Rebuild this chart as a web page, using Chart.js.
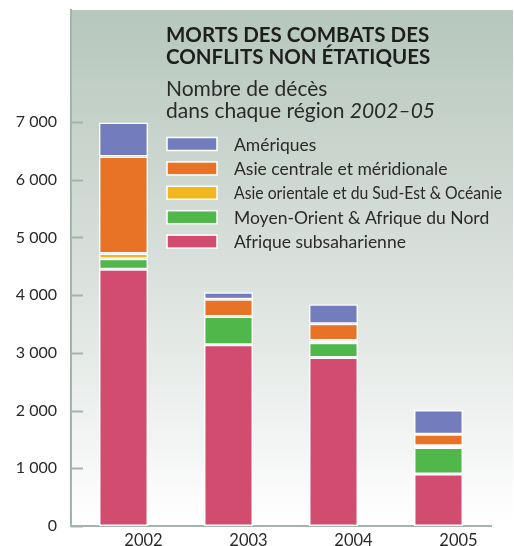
<!DOCTYPE html>
<html>
<head>
<meta charset="utf-8">
<script src="https://cdn.jsdelivr.net/npm/chart.js@4.4.1/dist/chart.umd.min.js"></script>
<style>
  html, body { margin: 0; padding: 0; background: #fff; }
  #wrap { width: 514px; height: 546px; }
</style>
</head>
<body>
<div id="wrap"><canvas id="c" width="514" height="546"></canvas></div>
<script>
// stacked from the bottom up
const years = ['2002', '2003', '2004', '2005'];
const afriqueSub = [4450, 3140, 2920, 900];
const moyenOrient = [180, 490, 255, 460];
const asieOrientale = [90, 0, 40, 30];
const asieCentrale = [1680, 300, 290, 200];
const ameriques = [590, 120, 335, 420];
const yTicks = [0, 1000, 2000, 3000, 4000, 5000, 6000, 7000];

const FONT = 'Lato, "Open Sans", sans-serif';
const AXIS = '#a3b4aa';

const titleLines = ['MORTS DES COMBATS DES', 'CONFLITS NON ÉTATIQUES'];
const subLine1 = 'Nombre de décès';
const subLine2 = 'dans chaque région ';
const subLine2It = '2002–05';

const series = [
  { label: 'Afrique subsaharienne', data: afriqueSub, color: '#d24c70' },
  { label: 'Moyen-Orient & Afrique du Nord', data: moyenOrient, color: '#50b84a' },
  { label: 'Asie orientale et du Sud-Est & Océanie', data: asieOrientale, color: '#f2b61e' },
  { label: 'Asie centrale et méridionale', data: asieCentrale, color: '#e87326' },
  { label: 'Amériques', data: ameriques, color: '#737dbd' },
];

const panel = {
  id: 'panel',
  beforeDraw(chart) {
    const { ctx, chartArea: a, width } = chart;
    const g = ctx.createLinearGradient(0, a.top, 0, a.bottom);
    g.addColorStop(0, '#b6c7bd');
    g.addColorStop(0.55, '#dde3df');
    g.addColorStop(1, '#ffffff');
    ctx.save();
    ctx.fillStyle = g;
    ctx.fillRect(a.left, a.top, width - a.left - 1, a.bottom - a.top);
    ctx.restore();
  },
  afterDraw(chart) {
    const { ctx, chartArea: a } = chart;
    const y = chart.scales.y;
    ctx.save();
    // inward tick marks
    ctx.strokeStyle = AXIS;
    ctx.lineWidth = 2;
    yTicks.forEach((v) => {
      const py = Math.round(y.getPixelForValue(v)) + 0.5;
      ctx.beginPath();
      ctx.moveTo(a.left, py);
      ctx.lineTo(a.left + 12, py);
      ctx.stroke();
    });

    // title
    ctx.fillStyle = '#1e1e1e';
    ctx.textAlign = 'left';
    ctx.textBaseline = 'alphabetic';
    ctx.font = 'bold 20.5px ' + FONT;
    ctx.fillText(titleLines[0], 166, 42, 264);
    ctx.fillText(titleLines[1], 166, 64, 271);
    ctx.font = '21px ' + FONT;
    ctx.fillStyle = '#2a2a2a';
    ctx.fillText(subLine1, 166, 96, 162);
    ctx.fillText(subLine2, 166, 118);
    const w = ctx.measureText(subLine2).width;
    ctx.font = 'italic 21px ' + FONT;
    ctx.fillText(subLine2It, 166 + w, 118);

    // legend, top entry first
    ctx.font = '17.5px ' + FONT;
    const items = chart.data.datasets.slice().reverse();
    items.forEach((ds, i) => {
      const cy = 144 + i * 24.4;
      ctx.fillStyle = ds.backgroundColor;
      ctx.fillRect(167, cy - 6.5, 50, 13);
      ctx.strokeStyle = '#ffffff';
      ctx.lineWidth = 1.5;
      ctx.strokeRect(167, cy - 6.5, 50, 13);
      ctx.fillStyle = '#2a2a2a';
      ctx.textBaseline = 'middle';
      ctx.fillText(ds.label, 234, cy + 1, 268);
    });
    ctx.restore();
  },
};

new Chart(document.getElementById('c'), {
  type: 'bar',
  data: {
    labels: years,
    datasets: series.map((s) => ({
      label: s.label,
      data: s.data,
      backgroundColor: s.color,
      borderColor: '#ffffff',
      borderWidth: 1.5,
      borderSkipped: false,
      barPercentage: 0.467,
      categoryPercentage: 1,
    })),
  },
  options: {
    responsive: false,
    animation: false,
    layout: { padding: { left: 0, right: 23, top: 10, bottom: 0 } },
    plugins: { legend: { display: false }, title: { display: false }, tooltip: { enabled: false } },
    scales: {
      x: {
        stacked: true,
        grid: { display: false, drawTicks: false },
        border: { display: true, color: AXIS, width: 2 },
        ticks: { color: '#2a2a2a', font: { family: FONT, size: 16.5 }, padding: 5, labelOffset: 20 },
        afterFit: (s) => { s.height = 20; s.paddingLeft = 0; s.paddingRight = 0; },
      },
      y: {
        stacked: true,
        min: 0,
        max: 8940,
        grid: { display: false, drawTicks: false },
        border: { display: true, color: AXIS, width: 2 },
        afterBuildTicks: (s) => { s.ticks = yTicks.map((v) => ({ value: v })); },
        ticks: {
          color: '#2a2a2a',
          font: { family: FONT, size: 16 },
          padding: 14,
          callback: (v) => (v === 0 ? '0' : (v / 1000) + ' 000'),
        },
        afterFit: (s) => { s.width = 71; s.paddingTop = 0; s.paddingBottom = 0; },
      },
    },
  },
  plugins: [panel],
});
</script>
</body>
</html>
